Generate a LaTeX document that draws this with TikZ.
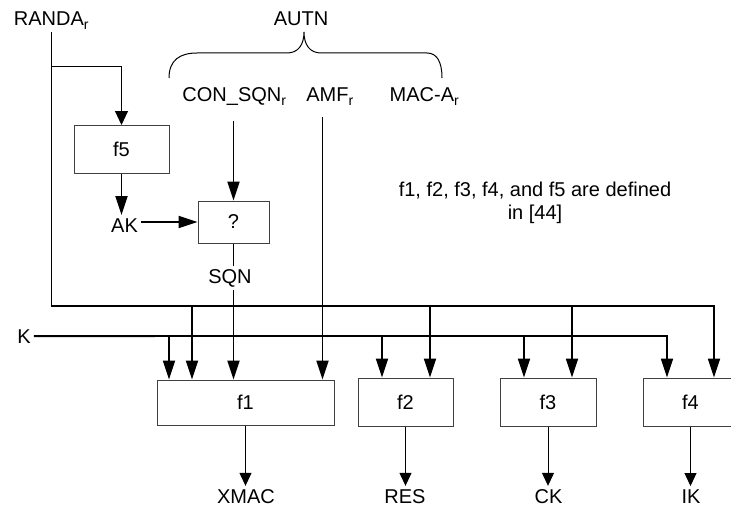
\documentclass[tikz,border=0pt]{standalone}
\usepackage{fontspec}
\setmainfont{Liberation Sans}
\usepackage{tikz}
\usetikzlibrary{arrows.meta,calc}

\tikzset{
  lbl/.style = {font = \fontsize{20}{23}\selectfont, inner sep = 3pt, anchor = base},
  fbox/.style = {draw = black!75, line width = 1pt, font = \fontsize{20}{23}\selectfont,
                 minimum width = 95pt, minimum height = 48pt, inner sep = 0pt},
  bus/.style = {line width = 1.8pt},
  arr/.style = {line width = 1.8pt, -{Triangle[length = 19pt, width = 12pt]}},
  inarr/.style = {line width = 1pt, -{Triangle[length = 14pt, width = 13pt]}},
  outarr/.style = {line width = 1pt, -{Triangle[length = 13pt, width = 12pt]}},
}

\begin{document}
\begin{tikzpicture}[x = 1pt, y = -1pt]
\useasboundingbox (0,0) rectangle (731,511);
% inputs
\node[lbl] (randa) at (51.5,26) {RANDA\textsubscript{r}};
\node[lbl] (autn) at (301,26) {AUTN};
\node[lbl] (consqn) at (234.5,102) {CON\_SQN\textsubscript{r}};
\node[lbl] (amf) at (330,102) {AMF\textsubscript{r}};
\node[lbl] (maca) at (424.5,102) {MAC-A\textsubscript{r}};
\node[lbl] (k) at (24,343) {K};
\draw[line width = 1pt] (169,78) .. controls (169,60) and (180,53) .. (197,53) -- (287,53)
  .. controls (298,53) and (304,45) .. (304,32) .. controls (304,45) and (310,53) .. (321,53)
  -- (427,53) .. controls (437,53) and (442,62) .. (442,78);
% function boxes
\node[fbox] (f5) at (121.5,149.5) {f5};
\node[lbl] (ak) at (124.5,232) {AK};
\node[fbox, minimum width = 71pt, minimum height = 42pt] (q) at (233.5,222) {?};
\node[lbl] (sqn) at (230,283) {SQN};
\node[fbox, minimum width = 177pt, minimum height = 45pt] (f1) at (245.5,402.5) {f1};
\node[fbox] (f2) at (405.5,402) {f2};
\node[fbox, minimum width = 96pt] (f3) at (548,402) {f3};
\node[fbox] (f4) at (690.5,402) {f4};
\node[lbl, anchor = center, align = center] (note) at (535,203)
  {f1, f2, f3, f4, and f5 are defined\\in [44]};
% outputs
\node[lbl] (xmac) at (246,503) {XMAC};
\node[lbl] (res) at (405,503) {RES};
\node[lbl] (ck) at (548.5,503) {CK};
\node[lbl] (ik) at (691,503) {IK};
% RANDA bus
\coordinate (rsplit) at (51.5,67);
\coordinate (rbus) at (51.5,306);
\coordinate (rend) at (714,306);
\draw[line width = 1pt] (randa.south) -- (rsplit);
\draw[inarr] (rsplit) -| (f5.north);
\draw[arr] (rsplit) -- (rbus) -- (rend) -- (rend |- f4.north);
\foreach \x/\f in {192/f1, 430/f2, 572/f3} {
  \coordinate (r\f) at (\x,306);
  \draw[arr] (r\f) -- (r\f |- \f.north);
}
% K bus
\coordinate (kend) at (667,336);
\draw[arr] (k.east) -- (kend) -- (kend |- f4.north);
\foreach \x/\f in {169/f1, 382/f2, 524/f3} {
  \coordinate (k\f) at (\x,336);
  \draw[arr] (k\f) -- (k\f |- \f.north);
}
% AUTN fields
\draw[arr, shorten <= 12pt] (q.north |- consqn.south) -- (q.north);
\coordinate (amfx) at ([xshift = -7.5pt]amf.south);
\draw[arr, shorten <= 9pt] (amfx) -- (amfx |- f1.north);
\draw[arr] (f5.south) -- (f5.south |- ak.north);
\draw[arr] (ak.east |- q.west) -- (q.west);
\draw[bus] (q.south) -- (q.south |- sqn.north);
\draw[arr] (q.south |- sqn.south) -- (q.south |- f1.north);
\foreach \f/\o in {f1/xmac, f2/res, f3/ck, f4/ik}
  \draw[outarr] (\f.south) -- (\f.south |- \o.north);
\end{tikzpicture}
\end{document}
